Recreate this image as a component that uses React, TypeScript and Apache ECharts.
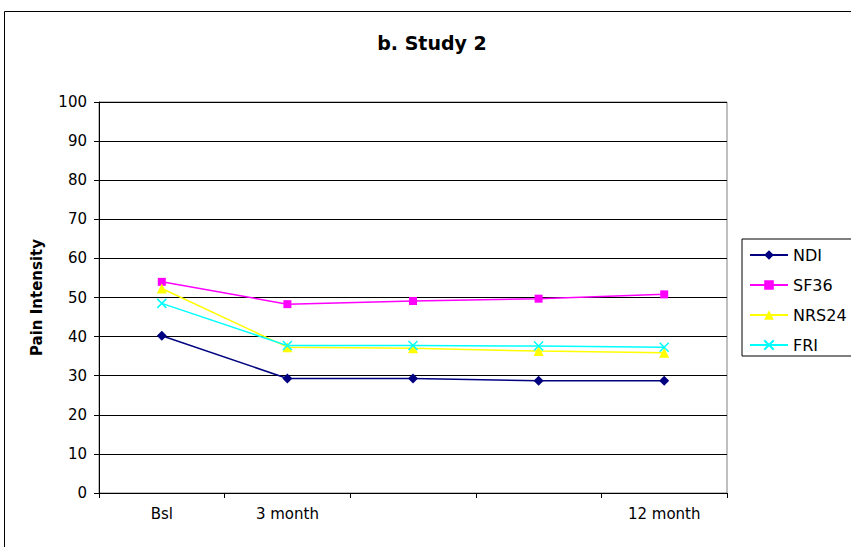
import React, { useEffect, useRef } from "react";
import * as echarts from "echarts";

const categories = ["Bsl", "3 month", "", "", "12 month"];
const seriesNames = ["NDI", "SF36", "NRS24", "FRI"];
const ndi = [40.2, 29.3, 29.3, 28.7, 28.7];
const sf36 = [54.0, 48.3, 49.1, 49.7, 50.8];
const nrs24 = [52.3, 37.3, 37.0, 36.3, 35.9];
const fri = [48.5, 37.7, 37.7, 37.6, 37.3];
const yTicks = [0, 10, 20, 30, 40, 50, 60, 70, 80, 90, 100];

const FONT = "DejaVu Sans";
const CROSS = "path://M0,0L10,10M0,10L10,0";

export default function App() {
  const ref = useRef<HTMLDivElement>(null);
  useEffect(() => {
    if (!ref.current) return;
    const chart = echarts.init(ref.current, undefined, { renderer: "svg" });
    const mk = (name: string, data: number[], color: string, symbol: string, size: number, cross = false) => ({
      name,
      type: "line",
      data,
      symbol,
      symbolSize: size,
      showSymbol: true,
      lineStyle: { color, width: 1.5 },
      itemStyle: cross
        ? { color: "rgba(0,0,0,0)", borderColor: color, borderWidth: 1.5 }
        : { color, borderColor: color, borderWidth: 0 },
      emphasis: { disabled: true },
      z: 3,
    });
    chart.setOption({
      animation: false,
      backgroundColor: "#ffffff",
      title: {
        text: "b. Study 2",
        left: 432,
        top: 33,
        padding: 0,
        textAlign: "center",
        textStyle: { fontFamily: FONT, fontSize: 19, fontWeight: "bold", color: "#000" },
      },
      graphic: [
        {
          type: "rect",
          shape: { x: 4.5, y: 11.5, width: 900, height: 600 },
          style: { fill: "none", stroke: "#000", lineWidth: 1 },
          silent: true,
          z: -1,
        },
      ],
      legend: {
        orient: "vertical",
        left: 742,
        top: 239,
        data: seriesNames,
        borderColor: "#000",
        borderWidth: 1,
        padding: [8, 30, 3, 7],
        itemWidth: 38,
        itemHeight: 12,
        itemGap: 14,
        textStyle: { fontFamily: FONT, fontSize: 16, color: "#000", lineHeight: 16 },
        selectedMode: false,
      },
      grid: {
        left: 99,
        top: 102,
        right: 124,
        bottom: 54,
        show: true,
        borderColor: "#808080",
        borderWidth: 1,
        backgroundColor: "#fff",
      },
      xAxis: {
        type: "category",
        data: categories,
        boundaryGap: true,
        axisLine: { show: true, lineStyle: { color: "#000", width: 1 } },
        axisTick: { show: true, length: 5, alignWithLabel: false, lineStyle: { color: "#000" } },
        axisLabel: { fontFamily: FONT, fontSize: 15, color: "#000", margin: 13, interval: 0 },
        splitLine: { show: false },
      },
      yAxis: {
        type: "value",
        min: yTicks[0],
        max: yTicks[yTicks.length - 1],
        interval: 10,
        name: "Pain Intensity",
        nameLocation: "middle",
        nameGap: 55,
        nameTextStyle: { fontFamily: FONT, fontSize: 15, fontWeight: "bold", color: "#000" },
        axisLine: { show: true, lineStyle: { color: "#000", width: 1 } },
        axisTick: { show: true, length: 5, lineStyle: { color: "#000" } },
        axisLabel: { fontFamily: FONT, fontSize: 15, color: "#000", margin: 12 },
        splitLine: { show: true, lineStyle: { color: "#000", width: 1 } },
      },
      series: [
        mk("NDI", ndi, "#000080", "diamond", 10),
        mk("SF36", sf36, "#FF00FF", "rect", 8),
        mk("NRS24", nrs24, "#FFFF00", "triangle", 10),
        mk("FRI", fri, "#00FFFF", CROSS, 9, true),
      ],
    });
    return () => chart.dispose();
  }, []);
  return (
    <div
      ref={ref}
      style={{ position: "absolute", left: 0, top: 0, width: 851, height: 547, background: "#fff" }}
    />
  );
}
